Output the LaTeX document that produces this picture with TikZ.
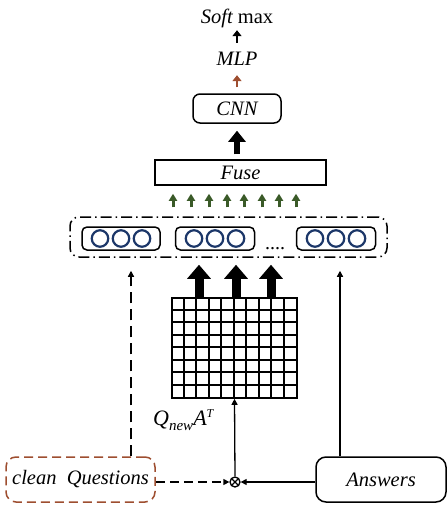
\documentclass[tikz,border=0pt]{standalone}
\usepackage{fontspec}
\setmainfont{Liberation Serif}
\usetikzlibrary{arrows.meta,calc}
\definecolor{brownc}{RGB}{158,78,48}
\definecolor{greenc}{RGB}{58,90,40}
\definecolor{navyc}{RGB}{28,55,105}
\tikzset{
  bigfont/.style={font=\fontsize{20.5}{22}\selectfont\itshape},
  lbl/.style={inner sep=0pt, anchor=base, text height=13pt, text depth=0pt, bigfont},
  rbox/.style={draw, line width=1.5pt, rounded corners=7pt, bigfont, inner sep=0pt},
  vecbox/.style={draw, line width=1.5pt, rounded corners=5pt, minimum height=23pt, minimum width=79pt, inner sep=0pt},
  dot/.style={draw=navyc, line width=2.2pt, circle, minimum size=16.5pt, inner sep=0pt},
  thinarr/.style={line width=1.3pt, -{Triangle[width=6pt,length=6pt]}},
  smallarr/.style={line width=2.6pt, -{Triangle[width=9pt,length=6pt]}},
  garr/.style={draw=greenc, line width=3pt, -{Triangle[width=8pt,length=7pt]}, greenc},
  bigarr/.style={line width=9pt, -{Triangle[width=23pt,length=14pt]}},
  midarr/.style={line width=6pt, -{Triangle[width=17pt,length=11pt]}}
}
\begin{document}
\begin{tikzpicture}[x=1pt,y=-1pt]
\useasboundingbox (0,0) rectangle (447,507);
% top texts
\node[lbl] (soft) at (237,23) {Soft\upshape{} max};
\node[lbl] (mlp) at (237,65) {MLP};
\node[rbox, minimum width=88pt, minimum height=29pt] (cnn) at (237,108.5) {CNN};
\node[draw, line width=1.5pt, minimum width=171pt, minimum height=25pt, inner sep=0pt, bigfont] (fuse) at (240.5,172.5) {Fuse};
\draw[smallarr, shorten <=9pt, shorten >=7pt] (mlp.north) -- (soft.south);
\draw[smallarr, brownc, shorten <=6pt, shorten >=10pt] (cnn.north) -- (mlp.south);
\draw[midarr, shorten <=5pt, shorten >=7pt] (fuse.north -| cnn.south) -- (cnn.south);
% dash-dot group
\node[draw, line width=1.5pt, rounded corners=9pt, dash pattern=on 11pt off 4pt on 1.5pt off 4pt, minimum width=317pt, minimum height=40pt, inner sep=0pt] (dd) at (228.5,237) {};
\node[vecbox, minimum width=78pt] (v1) at (121,238.5) {};
\node[vecbox] (v2) at (215,238.5) {};
\node[vecbox] (v3) at (336,238.5) {};
\foreach \v in {v1,v2,v3}{
  \node[dot] (\v a) at ($(\v.center)+(-21,0)$) {};
  \node[dot] (\v b) at (\v.center) {};
  \node[dot] (\v c) at ($(\v.center)+(21,0)$) {};
}
\node[inner sep=0pt, anchor=base, font=\fontsize{20}{22}\selectfont] (dots) at (275,249) {....};
\foreach \x in {173,191,209,227,244,262,279,296}{
  \draw[garr, shorten <=9pt, shorten >=8pt] (dd.north -| \x,0) -- (fuse.south -| \x,0);
}
% grid
\node[draw, line width=1.6pt, minimum width=125pt, minimum height=100pt, inner sep=0pt] (grid) at (234.5,348) {};
\foreach \i in {1,...,9}{
  \draw[line width=1.6pt] ($(grid.north west)+(12.5*\i,0)$) -- ($(grid.south west)+(12.5*\i,0)$);
}
\foreach \j in {1,...,7}{
  \draw[line width=1.6pt] ($(grid.north west)+(0,12.5*\j)$) -- ($(grid.north east)+(0,12.5*\j)$);
}
\foreach \x in {199,236,271}{
  \draw[bigarr, shorten >=7pt] (grid.north -| \x,0) -- (dd.south -| \x,0);
}
\node[inner sep=0pt, anchor=base west, font=\fontsize{22}{24}\selectfont\itshape] (qa) at (153,425) {Q\raisebox{-5pt}{\fontsize{15}{16}\selectfont new}A\raisebox{8pt}{\fontsize{12}{13}\selectfont T}};
% bottom boxes
\node[rbox, draw=brownc, dash pattern=on 9pt off 5pt, rounded corners=10pt, minimum width=149pt, minimum height=45pt] (cq) at (80.5,479.5) {clean\ \ Questions};
\node[rbox, rounded corners=10pt, minimum width=130pt, minimum height=45pt] (ans) at (381,479.5) {Answers};
\node[circle, draw, line width=1.3pt, minimum size=10pt, inner sep=0pt,
  path picture={\draw[line width=1.2pt] (path picture bounding box.north west) -- (path picture bounding box.south east) (path picture bounding box.north east) -- (path picture bounding box.south west);}] (ot) at (235,482) {};
\draw[thinarr, dash pattern=on 9pt off 5pt] (cq.east |- ot.west) -- (ot.west);
\draw[thinarr] (ans.west |- ot.east) -- (ot.east);
\draw[thinarr] (ot.north) -- (grid.south);
\draw[thinarr, dash pattern=on 11pt off 6pt, shorten >=13pt] (cq.north -| 131,0) -- (dd.south -| 131,0);
\draw[thinarr, shorten >=13pt] (ans.north -| 340,0) -- (dd.south -| 340,0);
\end{tikzpicture}
\end{document}
